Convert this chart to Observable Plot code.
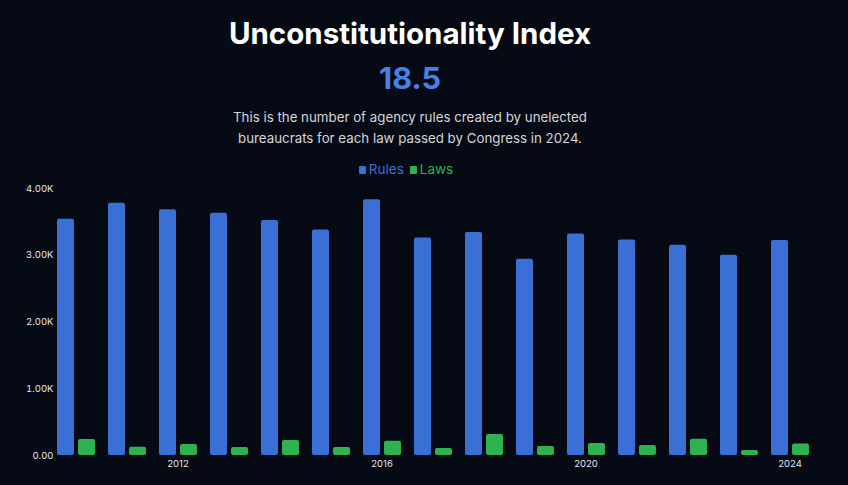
<!DOCTYPE html>
<html>
<head>
<meta charset="utf-8">
<script src="https://cdn.jsdelivr.net/npm/d3@7"></script>
<script src="https://cdn.jsdelivr.net/npm/@observablehq/plot@0.6"></script>
<style>
  html, body { margin: 0; padding: 0; background: #050a14; }
  #wrap { position: relative; width: 848px; height: 485px; overflow: hidden; font-family: Inter, "Noto Sans", sans-serif; }
  .hdr { position: absolute; left: -14px; width: 848px; text-align: center; }
  .title { top: 13px; color: #ffffff; font-weight: 700; font-size: 29.5px; line-height: 40px; }
  .value { top: 59px; color: #4a80e6; font-weight: 700; font-size: 30.5px; line-height: 38px; }
  .sub { top: 107px; color: #d4d6da; font-size: 13.3px; line-height: 20.5px; }
  .legend { top: 161px; font-size: 13.5px; line-height: 16px; left: -18px; }
  .legend span.item { margin: 0 3px; }
  .legend span.sw { display: inline-block; width: 7px; height: 8px; margin-right: 3px; border-radius: 1px; }
  #chart { position: absolute; left: 0; top: 178px; }
</style>
</head>
<body>
<div id="wrap">
  <div class="hdr title">Unconstitutionality Index</div>
  <div class="hdr value">18.5</div>
  <div class="hdr sub">This is the number of agency rules created by unelected<br>bureaucrats for each law passed by Congress in 2024.</div>
  <div class="hdr legend" id="legend"></div>
  <div id="chart"></div>
</div>
<script>
const years = [2010, 2011, 2012, 2013, 2014, 2015, 2016, 2017, 2018, 2019, 2020, 2021, 2022, 2023, 2024];
const rules = [3540, 3780, 3680, 3630, 3520, 3380, 3830, 3260, 3340, 2940, 3320, 3230, 3150, 3000, 3220];
const laws  = [240, 125, 165, 120, 225, 120, 215, 105, 315, 135, 180, 150, 245, 75, 174];
const series = ["Rules", "Laws"];
const seriesColors = ["#3a6fd6", "#2db24f"];
const yTicks = [0, 1000, 2000, 3000, 4000];
const xTickYears = [2012, 2016, 2020, 2024];

const data = years.flatMap((yr, i) => [
  {year: yr, series: "Rules", value: rules[i]},
  {year: yr, series: "Laws", value: laws[i]}
]);

// legend
const legend = document.getElementById("legend");
series.forEach((s, i) => {
  const item = document.createElement("span");
  item.className = "item";
  item.style.color = seriesColors[i];
  const sw = document.createElement("span");
  sw.className = "sw";
  sw.style.background = seriesColors[i];
  item.appendChild(sw);
  item.appendChild(document.createTextNode(s));
  legend.appendChild(item);
});

const chart = Plot.plot({
  width: 848,
  height: 307,
  marginLeft: 47,
  marginRight: 31,
  marginTop: 10,
  marginBottom: 30,
  style: {background: "transparent", color: "#e6e8ec", fontFamily: "Inter, 'Noto Sans', sans-serif", fontSize: "9.5px"},
  fx: {domain: years, paddingInner: 0.24, paddingOuter: 0.12, label: null, tickSize: 0, tickPadding: 5,
       tickFormat: d => xTickYears.includes(d) ? String(d) : ""},
  x: {domain: series, axis: null, paddingInner: 0.2, paddingOuter: 0},
  y: {domain: [0, 4000], ticks: yTicks, label: null, tickSize: 0, tickPadding: 3,
      tickFormat: d => d === 0 ? "0.00" : (d / 1000).toFixed(2) + "K"},
  color: {domain: series, range: seriesColors},
  marks: [
    Plot.barY(data, {fx: "year", x: "series", y: "value", fill: "series", rx: 2})
  ]
});
document.getElementById("chart").appendChild(chart);
</script>
</body>
</html>
